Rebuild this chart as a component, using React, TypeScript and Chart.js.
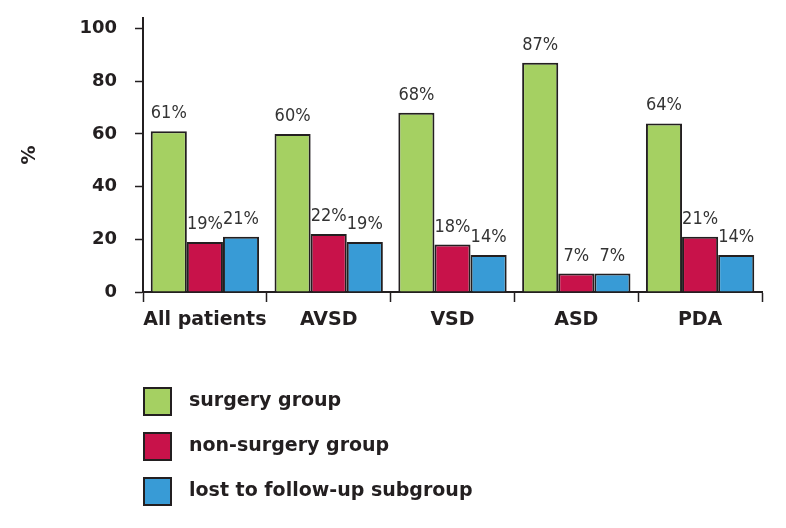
import React, { useEffect, useRef } from "react";
import { Chart, registerables } from "chart.js";

Chart.register(...registerables);

const categories = ["All patients", "AVSD", "VSD", "ASD", "PDA"];
const seriesNames = ["surgery group", "non-surgery group", "lost to follow-up subgroup"];
const surgery = [61, 60, 68, 87, 64];
const nonSurgery = [19, 22, 18, 7, 21];
const lostFollowUp = [21, 19, 14, 7, 14];
const yTicks = [0, 20, 40, 60, 80, 100];
const yTitle = "%";

const colors = ["#a5d062", "#c8124a", "#389bd6"];
const edge = "#231f20";

const valueLabels = {
  id: "valueLabels",
  afterDatasetsDraw(chart: any) {
    const ctx = chart.ctx;
    ctx.save();
    ctx.font = '18px "Liberation Sans Narrow", "DejaVu Sans Condensed", sans-serif';
    ctx.fillStyle = "#333333";
    ctx.textAlign = "center";
    ctx.textBaseline = "alphabetic";
    chart.data.datasets.forEach((ds: any, i: number) => {
      const meta = chart.getDatasetMeta(i);
      meta.data.forEach((bar: any, j: number) => {
        ctx.fillText(ds.data[j] + "%", bar.x, bar.y - 13);
      });
    });
    ctx.restore();
  },
};

const boxLegend = {
  id: "boxLegend",
  afterDraw(chart: any) {
    const ctx = chart.ctx;
    ctx.save();
    const x0 = 144;
    const size = 27;
    chart.data.datasets.forEach((ds: any, i: number) => {
      const top = 388 + i * 45;
      ctx.fillStyle = ds.backgroundColor;
      ctx.fillRect(x0, top, size, size);
      ctx.lineWidth = 2;
      ctx.strokeStyle = edge;
      ctx.strokeRect(x0, top, size, size);
      ctx.fillStyle = edge;
      ctx.font = 'bold 19px "DejaVu Sans", sans-serif';
      ctx.textAlign = "left";
      ctx.textBaseline = "middle";
      ctx.fillText(ds.label, 189, top + size / 2);
    });
    ctx.restore();
  },
};

export default function App() {
  const ref = useRef<HTMLCanvasElement | null>(null);
  useEffect(() => {
    if (!ref.current) return;
    const series = [surgery, nonSurgery, lostFollowUp];
    const chart = new Chart(ref.current, {
      type: "bar",
      data: {
        labels: categories,
        datasets: series.map((d, i) => ({
          label: seriesNames[i],
          data: d,
          backgroundColor: colors[i],
          borderColor: edge,
          borderWidth: 2,
          categoryPercentage: 0.875,
          barPercentage: 1,
        })),
      },
      options: {
        responsive: false,
        animation: false,
        devicePixelRatio: 1,
        layout: { padding: { top: 18, right: 24, left: 0, bottom: 0 } },
        plugins: { legend: { display: false }, tooltip: { enabled: false } },
        scales: {
          x: {
            afterFit(scale: any) {
              scale.height = 236;
              scale.paddingLeft = 0;
              scale.paddingRight = 0;
            },
            grid: {
              offset: true,
              drawOnChartArea: false,
              drawTicks: true,
              tickLength: 10,
              tickColor: edge,
              tickWidth: 1.5,
            },
            border: { display: true, color: edge, width: 2 },
            ticks: {
              color: edge,
              padding: 7,
              maxRotation: 0,
              minRotation: 0,
              autoSkip: false,
              font: { family: '"DejaVu Sans", sans-serif', size: 19, weight: "bold" },
            },
          },
          y: {
            min: 0,
            max: 104,
            afterFit(scale: any) {
              scale.width = 143;
              scale.paddingTop = 0;
              scale.paddingBottom = 0;
            },
            afterBuildTicks(scale: any) {
              scale.ticks = yTicks.map((v) => ({ value: v }));
            },
            grid: {
              drawOnChartArea: false,
              drawTicks: true,
              tickLength: 8,
              tickColor: edge,
              tickWidth: 1.5,
            },
            border: { display: true, color: edge, width: 2 },
            ticks: {
              color: edge,
              padding: 18,
              font: { family: '"DejaVu Sans", sans-serif', size: 18, weight: "bold" },
            },
            title: {
              display: true,
              text: yTitle,
              color: edge,
              padding: { top: 19, bottom: 0 },
              font: { family: '"DejaVu Sans", sans-serif', size: 19, weight: "bold" },
            },
          },
        },
      },
      plugins: [valueLabels, boxLegend],
    });
    return () => chart.destroy();
  }, []);
  return (
    <div style={{ position: "absolute", left: 0, top: 0, width: 786, height: 528, background: "#fff" }}>
      <canvas ref={ref} width={786} height={528} />
    </div>
  );
}
